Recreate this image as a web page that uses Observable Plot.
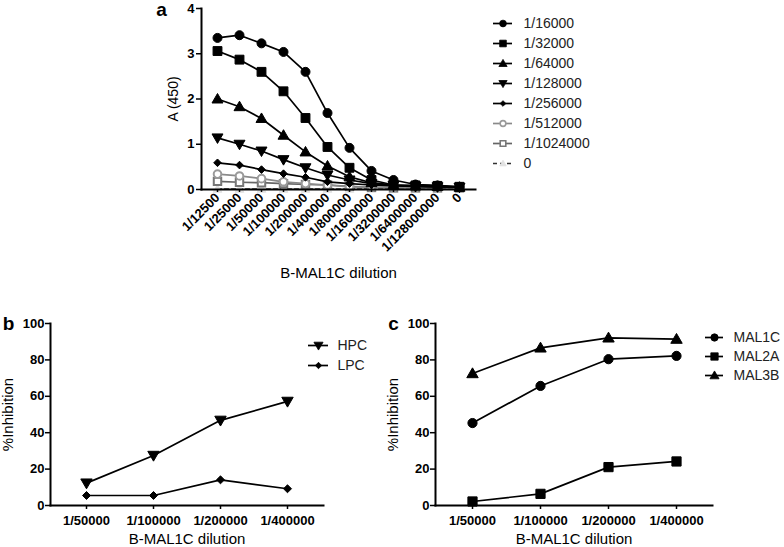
<!DOCTYPE html>
<html><head><meta charset="utf-8">
<script src="https://cdn.jsdelivr.net/npm/d3@7"></script>
<script src="https://cdn.jsdelivr.net/npm/@observablehq/plot@0.6"></script>
<style>
body{margin:0;background:#fff;}
#wrap{position:relative;width:784px;height:547px;overflow:hidden;background:#fff;font-family:"Liberation Sans",Arial,sans-serif;}
#wrap svg{position:absolute;}
</style></head><body><div id="wrap"></div>
<script>
// ---------- Panel a data ----------
const dilutionsA = ["1/12500","1/25000","1/50000","1/100000","1/200000","1/400000","1/800000","1/1600000","1/3200000","1/6400000","1/128000000","0"];
const seriesA = ["1/16000","1/32000","1/64000","1/128000","1/256000","1/512000","1/1024000","0"];
const a16000   = [3.35,3.41,3.23,3.04,2.60,1.69,0.92,0.41,0.21,0.11,0.09,0.06];
const a32000   = [3.06,2.87,2.60,2.17,1.58,0.94,0.48,0.21,0.10,0.09,0.08,0.06];
const a64000   = [2.00,1.83,1.57,1.20,0.83,0.52,0.28,0.15,0.10,0.08,0.07,0.05];
const a128000  = [1.14,1.00,0.85,0.66,0.48,0.32,0.21,0.13,0.09,0.07,0.06,0.05];
const a256000  = [0.59,0.54,0.44,0.35,0.27,0.17,0.13,0.10,0.08,0.07,0.06,0.05];
const a512000  = [0.34,0.30,0.24,0.17,0.13,0.10,0.06,0.05,0.04,0.04,0.04,0.04];
const a1024000 = [0.18,0.16,0.15,0.13,0.11,0.10,0.07,0.05,0.04,0.04,0.04,0.04];
const a0       = [0.01,0.01,0.01,0.01,0.01,0.01,0.01,0.01,0.01,0.01,0.01,0.01];
const yTicksA = [0,1,2,3,4];

// ---------- Panel b / c data ----------
const dilutionsBC = ["1/50000","1/100000","1/200000","1/400000"];
const seriesB = ["HPC","LPC"];
const hpc = [12.3,27.5,46.8,57.2];
const lpc = [5.5,5.5,14.1,9.2];
const seriesC = ["MAL1C","MAL2A","MAL3B"];
const mal1c = [45.3,65.7,80.4,82.2];
const mal2a = [2.2,6.4,21.1,24.2];
const mal3b = [72.5,86.6,92.1,91.4];
const yTicksBC = [0,20,40,60,80,100];

// ---------- symbols ----------
const triUp = {draw(c,s){const k=Math.sqrt(s);c.moveTo(0,-0.62*k);c.lineTo(0.62*k,0.45*k);c.lineTo(-0.62*k,0.45*k);c.closePath();}};
const triDown = {draw(c,s){const k=Math.sqrt(s);c.moveTo(0,0.62*k);c.lineTo(0.62*k,-0.45*k);c.lineTo(-0.62*k,-0.45*k);c.closePath();}};
const diamond = {draw(c,s){const k=Math.sqrt(s)*0.5;c.moveTo(0,-k);c.lineTo(k,0);c.lineTo(0,k);c.lineTo(-k,0);c.closePath();}};

const stylesA = {
  "1/16000":   {symbol:"circle", r:4.5, fill:"#000", stroke:"#000", line:"#000"},
  "1/32000":   {symbol:"square", r:5,   fill:"#000", stroke:"#000", line:"#000"},
  "1/64000":   {symbol:triUp,    r:5,   fill:"#000", stroke:"#000", line:"#000"},
  "1/128000":  {symbol:triDown,  r:5,   fill:"#000", stroke:"#000", line:"#000"},
  "1/256000":  {symbol:diamond,  r:4.3, fill:"#000", stroke:"#000", line:"#000"},
  "1/512000":  {symbol:"circle", r:3.8, fill:"#fff", stroke:"#9a9a9a", sw:2, line:"#8a8a8a"},
  "1/1024000": {symbol:"square", r:4.2, fill:"#fff", stroke:"#777", sw:2, line:"#666"},
  "0":         {symbol:triUp,    r:4,   fill:"#e2e2e2", stroke:"#e2e2e2", line:"#333", dash:"4,3"}
};
const stylesB = {
  "HPC": {symbol:triDown, r:5.2, fill:"#000", stroke:"#000", line:"#000"},
  "LPC": {symbol:diamond, r:4.5, fill:"#000", stroke:"#000", line:"#000"}
};
const stylesC = {
  "MAL1C": {symbol:"circle", r:4.6, fill:"#000", stroke:"#000", line:"#000"},
  "MAL2A": {symbol:"square", r:5.2, fill:"#000", stroke:"#000", line:"#000"},
  "MAL3B": {symbol:triUp,    r:5.2, fill:"#000", stroke:"#000", line:"#000"}
};

const FONT = '"Liberation Sans", Arial, sans-serif';
const wrap = document.getElementById("wrap");
function place(svg, left, top){ svg.style.left = left+"px"; svg.style.top = top+"px"; wrap.appendChild(svg); }
const baseStyle = {background:"transparent", overflow:"visible", fontFamily:FONT, fontSize:"12px", color:"#000", maxWidth:"none"};

function seriesMarks(rows, styles, order){
  const marks = [];
  for (const s of order) {
    const st = styles[s];
    const d = rows.filter(r => r.series === s);
    marks.push(Plot.line(d, {x:"dilution", y:"value", stroke:st.line, strokeWidth:1.7, strokeDasharray:st.dash}));
    marks.push(Plot.dot(d, {x:"dilution", y:"value", symbol:st.symbol, r:st.r, fill:st.fill, stroke:st.stroke, strokeWidth:st.sw ?? 1}));
  }
  return marks;
}

function legendPlot(names, styles, {width, height, mTop, mBottom, mLeft, markW, textDx, k}){
  const marks = [];
  for (const n of names) {
    const st = styles[n];
    marks.push(Plot.ruleY([n], {y:d=>d, x1:0, x2:1, stroke:st.line, strokeWidth:1.7, strokeDasharray:st.dash}));
    marks.push(Plot.dot([n], {x:()=>0.5, y:d=>d, symbol:st.symbol, r:st.r * k, fill:st.fill, stroke:st.stroke, strokeWidth:(st.sw ?? 1) * 0.8}));
  }
  marks.push(Plot.text(names, {x:()=>1, y:d=>d, text:d=>d, dx:textDx, textAnchor:"start", fontSize:14, fill:"#222"}));
  return Plot.plot({width, height, marginTop:mTop, marginBottom:mBottom, marginLeft:mLeft, marginRight:width-mLeft-markW,
    x:{domain:[0,1], axis:null}, y:{type:"point", domain:names, padding:0, axis:null}, style:baseStyle, marks});
}

// ---------- Panel a ----------
const valuesA = [a16000,a32000,a64000,a128000,a256000,a512000,a1024000,a0];
const rowsA = [];
seriesA.forEach((s,i) => valuesA[i].forEach((v,j) => rowsA.push({series:s, dilution:dilutionsA[j], value:v})));

const plotA = Plot.plot({
  width:490, height:290, marginLeft:201, marginRight:15, marginTop:8, marginBottom:101,
  x:{type:"point", domain:dilutionsA, padding:0.57},
  y:{domain:[0,4]},
  style:baseStyle,
  marks:[
    ...seriesMarks(rowsA, stylesA, [...seriesA].reverse()),
    Plot.frame({anchor:"left", strokeWidth:2}),
    Plot.frame({anchor:"bottom", strokeWidth:2}),
    Plot.axisY({ticks:yTicksA, tickFormat:"d", tickSize:5, tickPadding:2, strokeWidth:1.5, fontWeight:"bold", fontSize:13, label:null}),
    Plot.axisX({tickRotate:-45, tickSize:3, tickPadding:3, strokeWidth:1.5, fontWeight:"bold", fontSize:13, label:null}),
    Plot.text(["A (450)"], {text:d=>d, frameAnchor:"left", dx:-28, rotate:-90, textAnchor:"middle", lineAnchor:"middle", fontSize:14}),
    Plot.text(["B-MAL1C dilution"], {text:d=>d, frameAnchor:"bottom", dy:84, textAnchor:"middle", lineAnchor:"middle", fontSize:15}),
    Plot.text(["a"], {text:d=>d, frameAnchor:"top-left", dx:-40, dy:1, textAnchor:"middle", lineAnchor:"middle", fontSize:19, fontWeight:"bold"})
  ]
});
place(plotA, 0, 0);
place(legendPlot(seriesA, stylesA, {width:160, height:185, mTop:20, mBottom:20, mLeft:13, markW:19, textDx:11, k:0.75}), 480, 0);

// ---------- Panels b, c ----------
function inhibitionPlot(rows, names, styles, letter, width, mLeft, mRight){
  return Plot.plot({
    width, height:247, marginLeft:mLeft, marginRight:mRight, marginTop:23, marginBottom:42,
    x:{type:"point", domain:dilutionsBC, padding:0.52},
    y:{domain:[0,100]},
    style:baseStyle,
    marks:[
      ...seriesMarks(rows, styles, names),
      Plot.frame({anchor:"left", strokeWidth:2}),
      Plot.frame({anchor:"bottom", strokeWidth:2}),
      Plot.axisY({ticks:yTicksBC, tickFormat:"d", tickSize:5, tickPadding:1, strokeWidth:1.5, fontWeight:"bold", fontSize:13, label:null}),
      Plot.axisX({tickSize:4, tickPadding:6, strokeWidth:1.5, fontWeight:"bold", fontSize:13, label:null}),
      Plot.text(["%Inhibition"], {text:d=>d, frameAnchor:"left", dx:-42, rotate:-90, textAnchor:"middle", lineAnchor:"middle", fontSize:15}),
      Plot.text(["B-MAL1C dilution"], {text:d=>d, frameAnchor:"bottom", dy:34, textAnchor:"middle", lineAnchor:"middle", fontSize:15}),
      Plot.text([letter], {text:d=>d, frameAnchor:"top-left", dx:-42, dy:0, textAnchor:"middle", lineAnchor:"middle", fontSize:19, fontWeight:"bold"})
    ]
  });
}
const rowsB = [];
[hpc, lpc].forEach((arr,i) => arr.forEach((v,j) => rowsB.push({series:seriesB[i], dilution:dilutionsBC[j], value:v})));
place(inhibitionPlot(rowsB, seriesB, stylesB, "b", 330, 50, 7), 0, 300);
place(legendPlot(seriesB, stylesB, {width:90, height:50, mTop:15, mBottom:15, mLeft:8, markW:20, textDx:9, k:0.8}), 300, 330);

const rowsC = [];
[mal1c, mal2a, mal3b].forEach((arr,i) => arr.forEach((v,j) => rowsC.push({series:seriesC[i], dilution:dilutionsBC[j], value:v})));
place(inhibitionPlot(rowsC, seriesC, stylesC, "c", 330, 45, 8), 390, 300);
place(legendPlot(seriesC, stylesC, {width:84, height:72, mTop:16.7, mBottom:15.7, mLeft:5, markW:18, textDx:10, k:0.8}), 700, 320);
</script>
</body></html>
